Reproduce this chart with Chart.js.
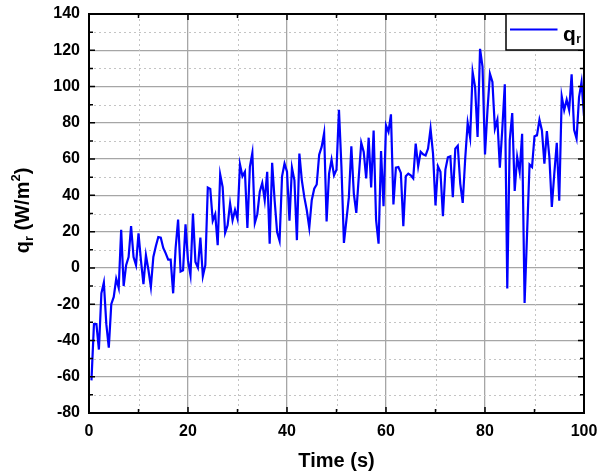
<!DOCTYPE html>
<html>
<head>
<meta charset="utf-8">
<script src="https://cdn.jsdelivr.net/npm/chart.js@4.4.1/dist/chart.umd.min.js"></script>
<style>
  html, body { margin: 0; padding: 0; background: #ffffff; }
  #wrap { width: 599px; height: 474px; position: relative; }
</style>
</head>
<body>
<div id="wrap"><canvas id="c" width="599" height="474"></canvas></div>
<script>
// ---- data ----
const timeSeconds = [
  0.5, 1, 1.5, 2, 2.5, 3, 3.5, 4, 4.5, 5, 5.5, 6, 6.5, 7, 7.5, 8, 8.5, 9, 9.5, 10,
  10.5, 11, 11.5, 12, 12.5, 13, 13.5, 14, 14.5, 15, 15.5, 16, 16.5, 17, 17.5, 18, 18.5, 19, 19.5, 20,
  20.5, 21, 21.5, 22, 22.5, 23, 23.5, 24, 24.5, 25, 25.5, 26, 26.5, 27, 27.5, 28, 28.5, 29, 29.5, 30,
  30.5, 31, 31.5, 32, 32.5, 33, 33.5, 34, 34.5, 35, 35.5, 36, 36.5, 37, 37.5, 38, 38.5, 39, 39.5, 40,
  40.5, 41, 41.5, 42, 42.5, 43, 43.5, 44, 44.5, 45, 45.5, 46, 46.5, 47, 47.5, 48, 48.5, 49, 49.5, 50,
  50.5, 51, 51.5, 52, 52.5, 53, 53.5, 54, 54.5, 55, 55.5, 56, 56.5, 57, 57.5, 58, 58.5, 59, 59.5, 60,
  60.5, 61, 61.5, 62, 62.5, 63, 63.5, 64, 64.5, 65, 65.5, 66, 66.5, 67, 67.5, 68, 68.5, 69, 69.5, 70,
  70.5, 71, 71.5, 72, 72.5, 73, 73.5, 74, 74.5, 75, 75.5, 76, 76.5, 77, 77.5, 78, 78.5, 79, 79.5, 80,
  80.5, 81, 81.5, 82, 82.5, 83, 83.5, 84, 84.5, 85, 85.5, 86, 86.5, 87, 87.5, 88, 88.5, 89, 89.5, 90,
  90.5, 91, 91.5, 92, 92.5, 93, 93.5, 94, 94.5, 95, 95.5, 96, 96.5, 97, 97.5, 98, 98.5, 99, 99.5, 100
];
const qrValues = [
  -62, -31, -31, -45, -14, -8, -31, -44, -20, -16, -6, -11, 21, -10, 1.5, 6, 23, 6, 1.5, 19,
  4, -9, 7, -1, -10.5, 6, 12, 17, 16.7, 11, 8, 4.6, 4.6, -14, 11, 26.6, -2, -1.3, 24, 4,
  -4, 30, 3.3, 0.2, 16.7, -4.6, 1.5, 44.3, 43.5, 26, 29.6, 12.5, 51.6, 44.6, 19.3, 23.5, 35.5, 26.3, 32, 27.2,
  57, 50.5, 53, 22, 55.7, 63.4, 24.8, 29.6, 42, 46.8, 37.3, 53, 13.4, 58, 37.3, 19.8, 15, 50.5, 57.5, 53,
  26, 55.3, 48.3, 15.3, 63, 48.3, 39, 31.8, 22.2, 37.3, 43.7, 46, 62.4, 66.7, 74.4, 25.6, 52, 59.7, 51, 54.2,
  87.2, 55.6, 13.8, 26.3, 39, 67, 41, 30.3, 50.2, 69, 64, 49.3, 71.8, 44.3, 75.8, 26.3, 13.4, 64.5, 34, 78.6,
  75, 84.7, 35, 55.3, 55.6, 52.4, 23, 50.5, 52, 51, 49.3, 68.5, 56, 64, 62.6, 62, 65.8, 76.8, 63, 34.5,
  56, 53, 28.5, 54.2, 61, 61.5, 39, 65.8, 67.4, 46.5, 35.8, 60.2, 80, 71.8, 108, 99.7, 72.2, 120.8, 110.8, 62.6,
  87, 107, 102.5, 76.8, 81.7, 55.3, 76.8, 101.2, -11.4, 70.3, 85.4, 42.4, 61.2, 53, 74, -19.3, 19, 57, 55.6, 72.6,
  73.1, 81.7, 75.8, 57.5, 75.4, 61.2, 33.6, 52, 69, 37, 94.6, 87, 92.7, 87, 106.7, 76.2, 71.3, 94.2, 102.5, 83.6
];
const xTickLabels = ['0', '20', '40', '60', '80', '100'];
const yTickLabels = ['-80', '-60', '-40', '-20', '0', '20', '40', '60', '80', '100', '120', '140'];
const seriesName = 'q';
const seriesSub = 'r';

const FONT = '"Liberation Sans", Arial, Helvetica, sans-serif';

const points = timeSeconds.map((t, i) => ({ x: t, y: qrValues[i] }));

const framePlugin = {
  id: 'frame',
  beforeDatasetsDraw(chart) {
    const ctx = chart.ctx, a = chart.chartArea;
    const xs = chart.scales.x, ys = chart.scales.y;
    ctx.save();
    ctx.strokeStyle = '#c4c4c4';
    ctx.lineWidth = 1;
    ctx.setLineDash([2, 3]);
    xs.ticks.forEach(t => {
      if (Math.round(t.value) % 20 !== 0) {
        const px = Math.round(xs.getPixelForValue(t.value)) + 0.5;
        ctx.beginPath(); ctx.moveTo(px, a.top); ctx.lineTo(px, a.bottom); ctx.stroke();
      }
    });
    ys.ticks.forEach(t => {
      if (Math.round(t.value) % 20 !== 0) {
        const py = Math.round(ys.getPixelForValue(t.value)) + 0.5;
        ctx.beginPath(); ctx.moveTo(a.left, py); ctx.lineTo(a.right, py); ctx.stroke();
      }
    });
    ctx.restore();
  },
  afterDatasetsDraw(chart) {
    const ctx = chart.ctx, a = chart.chartArea;
    const xs = chart.scales.x, ys = chart.scales.y;
    ctx.save();
    ctx.setLineDash([]);
    ctx.strokeStyle = '#000';
    // inward ticks
    ctx.lineWidth = 1.5;
    xs.ticks.forEach(t => {
      const px = xs.getPixelForValue(t.value);
      const len = Math.round(t.value) % 20 === 0 ? 6 : 4;
      ctx.beginPath();
      ctx.moveTo(px, a.bottom); ctx.lineTo(px, a.bottom - len);
      ctx.moveTo(px, a.top); ctx.lineTo(px, a.top + len);
      ctx.stroke();
    });
    ys.ticks.forEach(t => {
      const py = ys.getPixelForValue(t.value);
      const len = Math.round(t.value) % 20 === 0 ? 6 : 4;
      ctx.beginPath();
      ctx.moveTo(a.left, py); ctx.lineTo(a.left + len, py);
      ctx.moveTo(a.right, py); ctx.lineTo(a.right - len, py);
      ctx.stroke();
    });
    // frame
    ctx.lineWidth = 2;
    ctx.strokeRect(a.left, a.top, a.right - a.left, a.bottom - a.top);

    // legend box
    const lx = a.right - 78, ly = a.top, lw = 78, lh = 36;
    ctx.fillStyle = '#fff';
    ctx.fillRect(lx, ly, lw, lh);
    ctx.lineWidth = 1.5;
    ctx.strokeStyle = '#000';
    ctx.strokeRect(lx, ly, lw, lh);
    ctx.strokeStyle = '#0000ff';
    ctx.lineWidth = 2;
    ctx.beginPath(); ctx.moveTo(lx + 4, ly + 15.5); ctx.lineTo(lx + 51.5, ly + 15.5); ctx.stroke();
    ctx.fillStyle = '#000';
    ctx.textBaseline = 'alphabetic';
    ctx.textAlign = 'left';
    ctx.font = 'bold 21px ' + FONT;
    ctx.fillText(seriesName, lx + 57, ly + 26.5);
    const qw = ctx.measureText(seriesName).width;
    ctx.font = 'bold 12px ' + FONT;
    ctx.fillText(seriesSub, lx + 57 + qw + 0.5, ly + 29);

    // x axis title
    ctx.font = 'bold 20px ' + FONT;
    ctx.textAlign = 'center';
    ctx.fillText('Time (s)', (a.left + a.right) / 2, 467);

    // y axis title (rotated) : q_r (W/m^2)
    const parts = [
      { t: 'q', f: 'bold 20px ' + FONT, dy: 0 },
      { t: 'r', f: 'bold 13px ' + FONT, dy: 4 },
      { t: ' (W/m', f: 'bold 20px ' + FONT, dy: 0 },
      { t: '2', f: 'bold 13px ' + FONT, dy: -9 },
      { t: ')', f: 'bold 20px ' + FONT, dy: 0 }
    ];
    let total = 0;
    parts.forEach(p => { ctx.font = p.f; p.w = ctx.measureText(p.t).width; total += p.w; });
    ctx.translate(29, (a.top + a.bottom) / 2 - 3);
    ctx.rotate(-Math.PI / 2);
    ctx.textAlign = 'left';
    let cx = -total / 2;
    parts.forEach(p => { ctx.font = p.f; ctx.fillText(p.t, cx, p.dy); cx += p.w; });
    ctx.restore();
  }
};

new Chart(document.getElementById('c'), {
  type: 'line',
  data: {
    datasets: [{
      label: seriesName + seriesSub,
      data: points,
      borderColor: '#0000ff',
      borderWidth: 2.2,
      pointRadius: 0,
      tension: 0,
      fill: false
    }]
  },
  options: {
    responsive: false,
    animation: false,
    events: [],
    layout: { padding: { left: 0, top: 14, right: 15, bottom: 0 } },
    plugins: { legend: { display: false }, tooltip: { enabled: false } },
    scales: {
      x: {
        type: 'linear', min: 0, max: 100,
        afterFit(scale) { scale.height = 61; scale.paddingLeft = 0; scale.paddingRight = 0; },
        border: { display: false },
        grid: {
          drawTicks: false,
          color: c => (Math.round(c.tick.value) % 20 === 0 ? '#a6a6a6' : 'rgba(0,0,0,0)'),
          lineWidth: 1.3
        },
        ticks: {
          stepSize: 10, autoSkip: false, maxRotation: 0, padding: 9,
          color: '#000',
          font: { family: FONT, size: 16, weight: 'bold' },
          callback: v => (Math.round(v) % 20 === 0 ? xTickLabels[Math.round(v) / 20] : '')
        }
      },
      y: {
        type: 'linear', min: -80, max: 140,
        afterFit(scale) { scale.width = 89; scale.paddingTop = 0; scale.paddingBottom = 0; },
        border: { display: false },
        grid: {
          drawTicks: false,
          color: c => (Math.round(c.tick.value) % 20 === 0 ? '#a6a6a6' : 'rgba(0,0,0,0)'),
          lineWidth: 1.3
        },
        ticks: {
          stepSize: 10, autoSkip: false, padding: 9,
          color: '#000',
          font: { family: FONT, size: 16, weight: 'bold' },
          callback: v => (Math.round(v) % 20 === 0 ? yTickLabels[(Math.round(v) + 80) / 20] : '')
        }
      }
    }
  },
  plugins: [framePlugin]
});
</script>
</body>
</html>
